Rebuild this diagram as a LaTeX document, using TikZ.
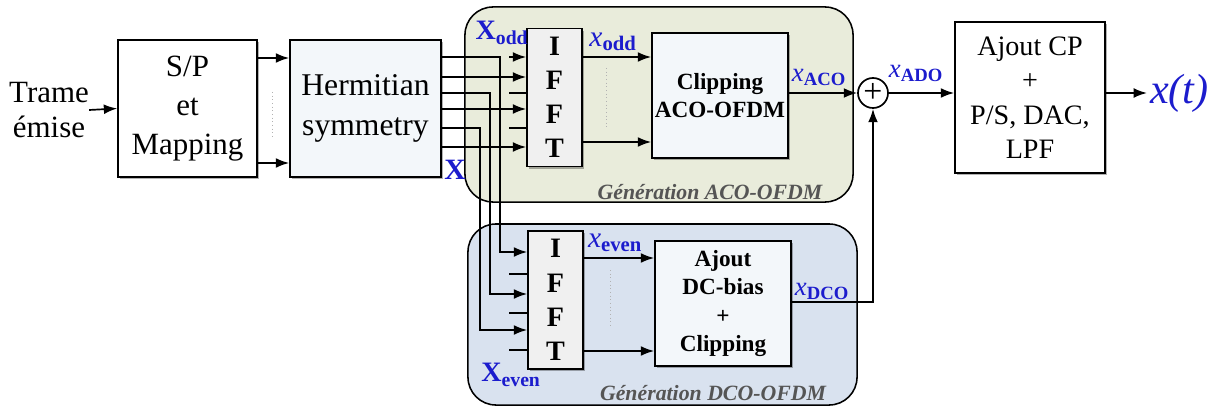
\documentclass[tikz,border=0pt]{standalone}
\usepackage{fontspec}
\setmainfont{Liberation Serif}
\usepackage{tikz}
\usetikzlibrary{arrows.meta,positioning,calc,shadows}
\definecolor{acofill}{RGB}{233,236,219}
\definecolor{dcofill}{RGB}{217,226,239}
\definecolor{hermfill}{RGB}{243,247,250}
\definecolor{ifftfill}{RGB}{240,240,240}
\definecolor{sigblue}{RGB}{28,28,205}
\definecolor{gentext}{RGB}{85,85,85}

\begin{document}
\begin{tikzpicture}[
  x=0.025cm, y=-0.025cm,
  font=\fontsize{22}{27.5}\selectfont,
  block/.style={draw, line width=1.1pt, align=center, inner sep=0pt, fill=white, drop shadow={shadow xshift=1.5pt, shadow yshift=-1.5pt, opacity=0.3, fill=black}},
  ifft/.style={block, fill=ifftfill, minimum width=1.375cm, minimum height=3.45cm, font=\fontsize{20}{24.3}\selectfont\bfseries},
  proc/.style={block, fill=hermfill, minimum width=3.4cm, minimum height=3.125cm, font=\fontsize{16.5}{20.3}\selectfont\bfseries},
  region/.style={draw, line width=1.1pt, rounded corners=0.7cm},
  sig/.style={text=sigblue, inner sep=0pt},
  gen/.style={text=gentext, font=\fontsize{15.5}{18}\selectfont\bfseries\itshape, inner sep=0pt},
  wire/.style={line width=1.2pt},
  arr/.style={wire, -{Latex[length=9.5pt,width=7pt]}},
  dots/.style={gray!60, dotted, line width=0.6pt}
]
\useasboundingbox (0,0) rectangle (1212,407);
% zones
\node[region, fill=acofill, minimum width=9.7cm, minimum height=4.875cm] (acozone) at (659,104.5) {};
\node[region, fill=dcofill, minimum width=9.725cm, minimum height=4.525cm] (dcozone) at (662.5,314.5) {};
\node[gen] (acolbl) at (710,192) {Génération ACO-OFDM};
\node[gen] (dcolbl) at (713,393) {Génération DCO-OFDM};
% blocks
\node[inner sep=0pt, align=center, font=\fontsize{22}{25.5}\selectfont] (src) at (49,110) {Trame\\émise};
\node[block, minimum width=3.475cm, minimum height=3.425cm] (sp) at (187.5,108.5) {S/P\\et\\Mapping};
\node[block, fill=hermfill, minimum width=3.775cm, minimum height=3.425cm, font=\fontsize{22.5}{28}\selectfont] (herm) at (365.5,108.5) {Hermitian\\symmetry};
\node[ifft] (iffto) at (554.5,97.5) {I\\F\\F\\T};
\node[ifft] (iffte) at (555.5,300) {I\\F\\F\\T};
\node[proc] (clip) at (720,95.5) {Clipping\\ACO-OFDM};
\node[proc] (bias) at (723,303.5) {Ajout\\DC-bias\\+\\Clipping};
\node[draw, circle, line width=1.2pt, fill=white, minimum size=0.75cm, inner sep=0pt, font=\fontsize{24}{24}\selectfont] (sum) at (873,93) {+};
\node[block, minimum width=3.75cm, minimum height=3.775cm, font=\fontsize{20}{24.5}\selectfont] (cp) at (1030,97.5) {Ajout CP\\+\\P/S, DAC,\\LPF};
\node[sig, anchor=west, inner xsep=2pt, font=\fontsize{30}{32}\selectfont\itshape] (xt) at (1147,93) {x(t)};
% signal labels
\node[sig, font=\fontsize{20}{24}\selectfont\bfseries] (Xodd) at (502,33) {X\textsubscript{odd}};
\node[sig, font=\fontsize{21}{24}\selectfont\bfseries] (Xall) at (455,170) {X};
\node[sig, font=\fontsize{20}{24}\selectfont\bfseries] (Xeven) at (511,375) {X\textsubscript{even}};
\node[sig, font=\fontsize{21}{24}\selectfont] (xodd) at (613,42) {\textit{x}\textsubscript{\bfseries odd}};
\node[sig, font=\fontsize{21}{24}\selectfont] (xeven) at (615,243) {\textit{x}\textsubscript{\bfseries even}};
\node[sig, font=\fontsize{19}{22}\selectfont] (xaco) at (819,77) {\textit{x}\textsubscript{\bfseries ACO}};
\node[sig, font=\fontsize{19}{22}\selectfont] (xado) at (916,73) {\textit{x}\textsubscript{\bfseries ADO}};
\node[sig, font=\fontsize{19}{22}\selectfont] (xdco) at (822,291) {\textit{x}\textsubscript{\bfseries DCO}};
% connections
\draw[arr] (src.east) -- (sp.west);
\draw[arr] (sp.east |- 0,58) -- (herm.west |- 0,58);
\draw[arr] (sp.east |- 0,163) -- (herm.west |- 0,163);
\draw[dots] (272,92) -- (272,137);
\draw[arr] (herm.east |- 0,77) -- (iffto.west |- 0,77);
\draw[arr] (herm.east |- 0,109) -- (iffto.west |- 0,109);
\draw[arr] (herm.east |- 0,147) -- (iffto.west |- 0,147);
\draw[arr] (herm.east |- 0,57) -| (500,252) -- (iffte.west |- 0,252);
\draw[arr] (herm.east |- 0,93) -| (490,294) -- (iffte.west |- 0,294);
\draw[arr] (herm.east |- 0,128) -| (480,330) -- (iffte.west |- 0,330);
\draw[arr] ([xshift=-12pt]iffto.west |- 0,57) -- (iffto.west |- 0,57);
\draw[wire] (iffto.west |- 0,93) -- ++(-17,0);
\draw[wire] (iffto.west |- 0,128) -- ++(-17,0);
\draw[wire] (iffte.west |- 0,274) -- ++(-18,0);
\draw[wire] (iffte.west |- 0,313) -- ++(-18,0);
\draw[wire] (iffte.west |- 0,350) -- ++(-18,0);
\draw[arr] (iffto.east |- 0,57) -- (clip.west |- 0,57);
\draw[arr] (iffto.east |- 0,142) -- (clip.west |- 0,142);
\draw[dots] (606,68) -- (606,127);
\draw[arr] (iffte.east |- 0,258) -- (bias.west |- 0,258);
\draw[arr] (iffte.east |- 0,351) -- (bias.west |- 0,351);
\draw[dots] (610,270) -- (610,328);
\draw[arr] (clip.east |- sum) -- (sum.west);
\draw[arr] (bias.east |- 0,302) -| (sum.south);
\draw[arr] (sum.east) -- (cp.west |- sum);
\draw[arr] (cp.east |- sum) -- (xt.west);
\end{tikzpicture}
\end{document}
